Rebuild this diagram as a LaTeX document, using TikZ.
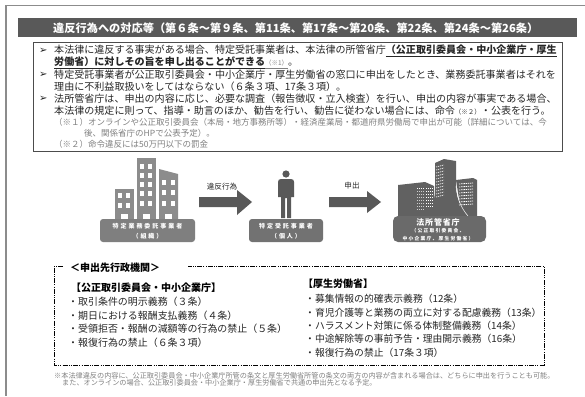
\documentclass[tikz,border=0pt]{standalone}
\usepackage{fontspec}
\setmainfont{Noto Sans CJK JP}
\newfontfamily\bulletfont{DejaVu Sans}
\definecolor{barfill}{HTML}{595959}
\definecolor{labelfill}{HTML}{7F7F7F}
\definecolor{darkfill}{HTML}{595959}
\definecolor{midfill}{HTML}{8C8C8C}
\definecolor{ink}{HTML}{262626}
\definecolor{notegray}{HTML}{808080}
\tikzset{
  txt/.style={anchor=west,inner sep=0pt,text=ink,font=\fontsize{10.05}{10}\selectfont},
  bulletmark/.style={anchor=west,inner sep=0pt,text=ink,font=\bulletfont\fontsize{10}{10}\selectfont},
  note/.style={anchor=west,inner sep=0pt,text=notegray,font=\fontsize{8.5}{8}\selectfont},
  foot/.style={anchor=west,inner sep=0pt,text=notegray,font=\fontsize{7.15}{7}\selectfont},
  listtxt/.style={anchor=west,inner sep=0pt,text=ink,font=\fontsize{9.95}{10}\selectfont},
  listtxtb/.style={anchor=west,inner sep=0pt,text=ink,font=\fontsize{9.8}{10}\selectfont},
  headtxt/.style={anchor=west,inner sep=0pt,text=black,font=\bfseries\fontsize{10}{10}\selectfont},
  lab/.style={rounded corners=3pt,fill=labelfill,draw=none},
  labtxt/.style={inner sep=0pt,text=white,font=\bfseries\fontsize{6}{6}\selectfont\addfontfeature{LetterSpace=33}},
  arrowlab/.style={inner sep=0pt,text=ink,font=\fontsize{7.6}{8}\selectfont},
  win/.style={fill=white,draw=none},
  bigarrow/.style={fill=darkfill,draw=none},
  dashframe/.style={draw=black,line width=.7pt,dash pattern=on 5pt off 1.2pt on 1pt off 1.2pt on 1pt off 1.2pt},
}
\begin{document}
\begin{tikzpicture}[x=1pt,y=-1pt]
\useasboundingbox (0,0) rectangle (585,396);
\fill[white] (0,0) rectangle (585,396);
% page frame
\draw[draw=midfill,line width=1.4pt] (585,5.5) -- (6,5.5) -- (6,396);
% title bar
\fill[barfill] (18,18) rectangle (577,37);
\node[anchor=west,inner sep=0pt,text=white,font=\bfseries\fontsize{11.2}{11}\selectfont] (title) at (53,28.5) {違反行為への対応等（第６条～第９条、第11条、第17条～第20条、第22条、第24条～第26条）};
% notes box
\draw[draw=black!70,line width=.6pt] (33.5,42) rectangle (562,151);
\node[bulletmark] (b1) at (39,51) {➢};
\node[txt] (t1) at (54,51) {本法律に違反する事実がある場合、特定受託事業者は、本法律の所管省庁\underline{\textbf{（公正取引委員会・中小企業庁・厚生}}};
\node[txt] (t2) at (54,63) {\underline{\textbf{労働省）に対しその旨を申し出ることができる}}{\color{notegray}\fontsize{6.5}{7}\selectfont\underline{（※1）}}。};
\node[bulletmark] (b2) at (39,75) {➢};
\node[txt] (t3) at (54,75) {特定受託事業者が公正取引委員会・中小企業庁・厚生労働省の窓口に申出をしたとき、業務委託事業者はそれを};
\node[txt] (t4) at (54,87) {理由に不利益取扱いをしてはならない（６条３項、17条３項）。};
\node[bulletmark] (b3) at (39,99) {➢};
\node[txt] (t5) at (54,99) {法所管省庁は、申出の内容に応じ、必要な調査（報告徴収・立入検査）を行い、申出の内容が事実である場合、};
\node[txt] (t6) at (54,111) {本法律の規定に則って、指導・助言のほか、勧告を行い、勧告に従わない場合には、命令{\fontsize{6.5}{7}\selectfont（※２）}・公表を行う。};
\node[note] (n1) at (54,122.5) {（※１）オンラインや公正取引委員会（本局・地方事務所等）・経済産業局・都道府県労働局で申出が可能（詳細については、今};
\node[note] (n2) at (84,133.5) {後、関係省庁のHPで公表予定）。};
\node[note] (n3) at (54,144) {（※２）命令違反には50万円以下の罰金};
% left buildings
\fill[midfill] (115,189) rectangle (134,220);
\fill[midfill] (137,158) rectangle (156,220);
\fill[midfill] (159,169) -- (178,174) -- (178,220) -- (159,220) -- cycle;
\foreach \y in {192.5,202.5} \foreach \x in {118,126} \fill[win] (\x,\y) rectangle +(4,5);
\foreach \y in {163.5,172.5,181.5,190.5,200.5} \foreach \x in {140,148} \fill[win] (\x,\y) rectangle +(4,5);
\foreach \y in {179.5,189.5,200.5} \foreach \x in {162,171} \fill[win] (\x,\y) rectangle +(4,5);
\fill[win] (121,214) rectangle +(7,6);
\fill[win] (143,214) rectangle +(7,6);
\fill[win] (165,214) rectangle +(7,6);
\path[lab] (100,219) rectangle (195,242);
\node[labtxt] (lab1a) at (147.5,226) {特定業務委託事業者};
\node[labtxt] (lab1b) at (147.5,236) {（組織）};
% arrow 1
\fill[bigarrow] (199,197) -- (237,197) -- (237,190) -- (252,202) -- (237,215) -- (237,207) -- (199,207) -- cycle;
\node[arrowlab] (a1) at (222,187) {違反行為};
% person
\fill[darkfill] (286,174) circle (3.6);
\fill[darkfill] (281,179) -- (291,179) .. controls (293,179) and (294,180) .. (294,182) -- (294,197) -- (291,197) -- (291,218) -- (287,218) -- (287,198) -- (285,198) -- (285,218) -- (281,218) -- (281,197) -- (278,197) -- (278,182) .. controls (278,180) and (279,179) .. (281,179) -- cycle;
\path[lab,fill=darkfill!85] (249,219) rectangle (323,242);
\node[labtxt] (lab2a) at (286,226) {特定受託事業者};
\node[labtxt] (lab2b) at (286,236) {（個人）};
% arrow 2
\fill[bigarrow] (329,197) -- (367,197) -- (367,191) -- (381,202) -- (367,213) -- (367,207) -- (329,207) -- cycle;
\node[arrowlab] (a2) at (352,186) {申出};
% agency building
\fill[darkfill!95] (398,185) -- (425,182) -- (434,186) -- (434,218) -- (398,218) -- cycle;
\fill[darkfill!95] (435,163) -- (444,159) -- (456,161) -- (456,182) .. controls (456,198) and (460,208) .. (470,218) -- (420,218) .. controls (430,212) and (435,202) .. (435,190) -- cycle;
\fill[darkfill!95] (456,180) -- (473,178) -- (477,180) -- (477,218) -- (462,218) -- cycle;
\draw[white,line width=.5pt] (456,186) .. controls (457,198) and (461,208) .. (468,216);
\foreach \y in {188,191,...,207} \draw[white,line width=.8pt,dash pattern=on 1.3pt off .7pt] (426,\y) -- (433,\y);
\draw[white,line width=.8pt,dash pattern=on 1.3pt off .7pt] (417,188) -- (424,188);
\foreach \y in {191,194,...,209} \draw[white!70!darkfill,line width=.7pt,dash pattern=on 1.3pt off .7pt] (417,\y) -- (424,\y);
\foreach \y in {167,170,...,197} \draw[white!85!darkfill,line width=.8pt,dash pattern=on 1.2pt off .8pt] (436,\y) -- (444,\y-2);
\foreach \y in {184,187,...,205} \draw[white,line width=.8pt,dash pattern=on 1.4pt off .8pt] (459,\y) -- (473,\y-1);
\path[lab,fill=darkfill!90,rounded corners=5pt] (393,216) rectangle (486,242);
\node[labtxt,font=\bfseries\fontsize{8}{8}\selectfont\addfontfeature{LetterSpace=10}] (lab3a) at (438,222.5) {法所管省庁};
\node[labtxt,font=\bfseries\fontsize{4.8}{5}\selectfont\addfontfeature{LetterSpace=25}] (lab3b) at (438,231) {（公正取引委員会、};
\node[labtxt,font=\bfseries\fontsize{4.8}{5}\selectfont\addfontfeature{LetterSpace=25}] (lab3c) at (438,239) {中小企業庁、厚生労働省）};
% dashed frame
\draw[dashframe] (63,266) -- (54,266) -- (54,365) -- (544,365) -- (544,266) -- (188,266);
\node[headtxt] (h0) at (70,268) {＜申出先行政機関＞};
\node[headtxt] (h1) at (71,288) {【公正取引委員会・中小企業庁】};
\node[listtxt] (l1) at (68,302) {・取引条件の明示義務（３条）};
\node[listtxt] (l2) at (68,316) {・期日における報酬支払義務（４条）};
\node[listtxt] (l3) at (68,329) {・受領拒否・報酬の減額等の行為の禁止（５条）};
\node[listtxt] (l4) at (68,343) {・報復行為の禁止（６条３項）};
\node[headtxt] (h2) at (303,284) {【厚生労働省】};
\node[listtxtb] (r1) at (305,299) {・募集情報の的確表示義務（12条）};
\node[listtxtb] (r2) at (305,313) {・育児介護等と業務の両立に対する配慮義務（13条）};
\node[listtxtb] (r3) at (305,326) {・ハラスメント対策に係る体制整備義務（14条）};
\node[listtxtb] (r4) at (305,339) {・中途解除等の事前予告・理由開示義務（16条）};
\node[listtxtb] (r5) at (305,353) {・報復行為の禁止（17条３項）};
% footnote
\node[foot] (f1) at (54,376) {※本法律違反の内容に、公正取引委員会・中小企業庁所管の条文と厚生労働省所管の条文の両方の内容が含まれる場合は、どちらに申出を行うことも可能。};
\node[foot] (f2) at (62,383) {また、オンラインの場合、公正取引委員会・中小企業庁・厚生労働省で共通の申出先となる予定。};
\end{tikzpicture}
\end{document}
